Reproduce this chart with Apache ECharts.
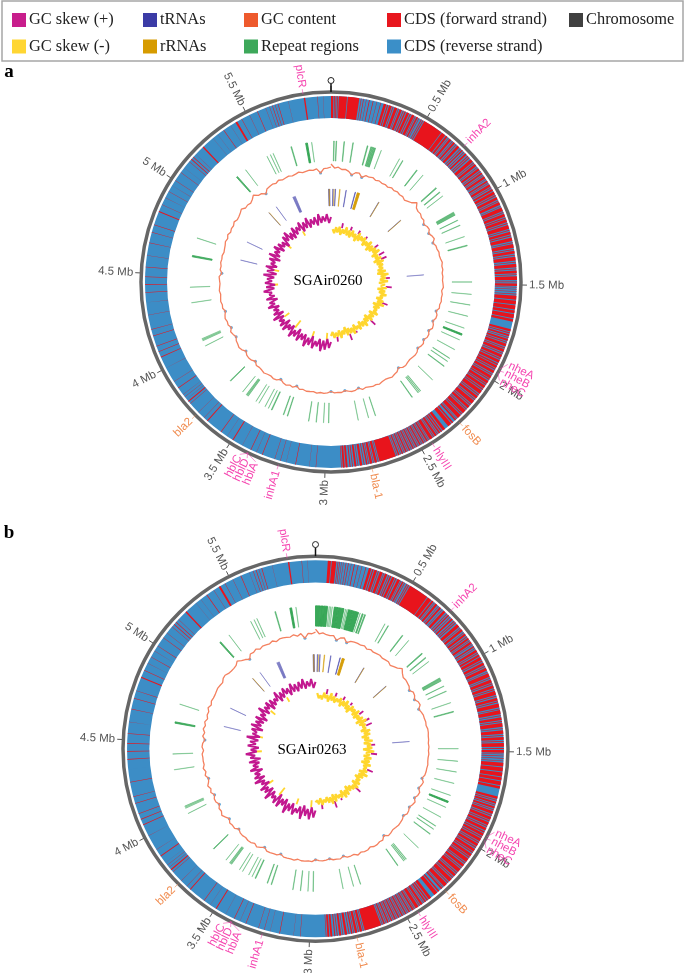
<!DOCTYPE html>
<html>
<head>
<meta charset="utf-8">
<style>html,body{margin:0;padding:0;background:#fff}#chart{width:685px;height:973px;filter:blur(0.45px)}</style>
<script src="https://cdn.jsdelivr.net/npm/echarts@6/dist/echarts.min.js"></script>
</head>
<body>
<div id="chart"></div>
<script>
const genomeMb = 5.94;
const binMb = 0.03;

const tickMb = [0.5, 1, 1.5, 2, 2.5, 3, 3.5, 4, 4.5, 5, 5.5];
const tickLabels = ['0.5 Mb', '1 Mb', '1.5 Mb', '2 Mb', '2.5 Mb', '3 Mb', '3.5 Mb', '4 Mb', '4.5 Mb', '5 Mb', '5.5 Mb'];

const geneNames = ['plcR', 'inhA2', 'nheA', 'nheB', 'nheC', 'fosB', 'hlyIII', 'bla-1', 'inhA1', 'hblC', 'hblD', 'hblA', 'bla2'];
const genePos = [5.80, 0.733, 1.935, 1.945, 1.955, 2.27, 2.44, 2.765, 3.235, 3.395, 3.40, 3.405, 3.72];
const geneLabelPos = [5.80, 0.733, 1.898, 1.94, 1.985, 2.27, 2.44, 2.765, 3.235, 3.43, 3.39, 3.345, 3.72];
const resistanceGenes = ['fosB', 'bla-1', 'bla2'];

// forward strand CDS on the outer ring, the gaps show the reverse strand below
const cdsReverseBase = [[0, 5.94]];
const cdsHeadA = [[0, 0.012], [0.016, 0.02], [0.024, 0.028], [0.032, 0.036], [0.04, 0.082], [0.086, 0.145]];
const cdsHeadB = [[0.062, 0.078], [0.082, 0.105], [0.112, 0.115], [0.12, 0.123], [0.13, 0.132], [0.14, 0.142]];
const cdsForward = [
  [0.153, 0.156], [0.165, 0.168], [0.18, 0.182], [0.195, 0.199], [0.215, 0.218], [0.235, 0.237], [0.255, 0.258],
  [0.272, 0.285], [0.29, 0.296], [0.301, 0.315], [0.32, 0.324], [0.33, 0.345], [0.35, 0.353], [0.358, 0.37], [0.376, 0.38], [0.385, 0.392],
  [0.397, 0.41], [0.415, 0.42], [0.426, 0.44], [0.444, 0.447], [0.452, 0.46], [0.465, 0.468], [0.478, 0.482], [0.487, 0.492],
  [0.497, 0.6], [0.604, 0.625],
  [0.63, 0.64], [0.645, 0.648], [0.653, 0.665], [0.672, 0.675], [0.68, 0.69], [0.697, 0.7], [0.706, 0.72], [0.728, 0.732], [0.738, 0.745],
  [0.752, 0.756], [0.763, 0.772], [0.78, 0.785], [0.79, 0.795],
  [0.803, 0.82], [0.826, 0.83], [0.835, 0.848], [0.855, 0.858], [0.863, 0.875], [0.881, 0.885], [0.89, 0.9], [0.905, 0.908], [0.913, 0.925],
  [0.93, 0.933], [0.94, 0.948], [0.953, 0.956], [0.962, 0.975], [0.98, 0.984], [0.99, 1.0],
  [1.005, 1.02], [1.025, 1.03], [1.036, 1.05], [1.056, 1.06], [1.065, 1.08], [1.087, 1.09], [1.095, 1.115], [1.12, 1.124], [1.13, 1.145],
  [1.15, 1.155], [1.16, 1.175], [1.18, 1.185], [1.19, 1.21], [1.216, 1.22], [1.226, 1.24], [1.245, 1.25], [1.256, 1.275], [1.282, 1.285],
  [1.29, 1.31], [1.316, 1.32], [1.326, 1.34], [1.346, 1.35], [1.356, 1.375], [1.382, 1.386], [1.392, 1.41], [1.416, 1.42], [1.426, 1.44],
  [1.446, 1.45], [1.456, 1.475], [1.482, 1.486], [1.492, 1.505],
  [1.51, 1.513], [1.52, 1.523], [1.532, 1.535], [1.545, 1.548],
  [1.555, 1.575], [1.58, 1.6], [1.605, 1.625], [1.63, 1.645], [1.65, 1.67], [1.675, 1.688],
  [1.728, 1.74], [1.745, 1.75], [1.755, 1.765], [1.77, 1.774], [1.78, 1.79], [1.795, 1.8], [1.805, 1.82], [1.825, 1.83], [1.835, 1.85],
  [1.855, 1.86], [1.865, 1.88], [1.885, 1.89], [1.895, 1.91],
  [1.915, 1.922], [1.926, 1.94], [1.944, 1.95], [1.955, 1.97], [1.975, 1.98], [1.985, 2.0], [2.004, 2.01], [2.015, 2.03], [2.034, 2.04],
  [2.045, 2.06], [2.064, 2.07], [2.075, 2.095], [2.1, 2.105], [2.11, 2.125], [2.13, 2.135], [2.14, 2.16], [2.165, 2.17], [2.175, 2.19],
  [2.195, 2.2], [2.205, 2.225], [2.23, 2.235], [2.24, 2.26], [2.265, 2.268], [2.272, 2.28], [2.292, 2.3], [2.305, 2.325],
  [2.345, 2.36], [2.365, 2.372], [2.377, 2.385], [2.39, 2.393], [2.398, 2.41], [2.414, 2.418], [2.423, 2.44], [2.445, 2.448], [2.452, 2.46],
  [2.465, 2.468], [2.473, 2.48], [2.485, 2.488], [2.493, 2.5], [2.505, 2.508], [2.513, 2.52], [2.525, 2.528], [2.533, 2.54], [2.545, 2.548],
  [2.553, 2.56], [2.565, 2.568], [2.573, 2.58], [2.585, 2.588], [2.593, 2.6], [2.605, 2.608], [2.613, 2.62], [2.625, 2.628],
  [2.633, 2.72], [2.725, 2.728], [2.733, 2.745], [2.75, 2.753], [2.758, 2.77], [2.775, 2.778], [2.783, 2.79], [2.798, 2.802], [2.81, 2.822],
  [2.83, 2.833], [2.84, 2.85], [2.858, 2.862], [2.87, 2.875], [2.885, 2.895], [2.9, 2.91], [2.915, 2.918],
  [3.046, 3.048], [3.08, 3.081], [3.15, 3.153], [3.2, 3.201], [3.23, 3.232], [3.26, 3.262], [3.327, 3.33], [3.36, 3.361], [3.39, 3.393], [3.44, 3.441],
  [3.493, 3.498], [3.53, 3.531], [3.567, 3.57], [3.655, 3.66], [3.68, 3.681], [3.72, 3.721], [3.78, 3.782], [3.793, 3.799], [3.81, 3.811], [3.825, 3.826], [3.84, 3.841],
  [3.88, 3.884], [3.92, 3.921], [4.0, 4.001], [4.06, 4.064], [4.09, 4.093], [4.12, 4.123], [4.175, 4.178], [4.21, 4.212], [4.285, 4.287], [4.35, 4.351],
  [4.40, 4.403], [4.44, 4.443], [4.48, 4.483], [4.53, 4.533], [4.59, 4.591], [4.655, 4.657], [4.71, 4.712], [4.75, 4.752], [4.82, 4.825], [4.86, 4.862],
  [4.90, 4.901], [4.935, 4.937], [4.97, 4.971], [5.0, 5.002], [5.05, 5.052], [5.08, 5.081], [5.12, 5.122], [5.135, 5.139], [5.15, 5.153], [5.17, 5.171],
  [5.22, 5.227], [5.29, 5.291], [5.32, 5.321], [5.357, 5.36], [5.40, 5.401], [5.43, 5.44], [5.465, 5.467], [5.51, 5.511], [5.553, 5.556], [5.6, 5.601],
  [5.62, 5.622], [5.635, 5.638], [5.65, 5.652], [5.665, 5.668], [5.72, 5.721], [5.801, 5.808], [5.87, 5.872], [5.9, 5.901]
];

// repeat regions, start and end in Mb
const repeatsHeadA = [
  [0.018, 0.022], [0.034, 0.038], [0.087, 0.091], [0.147, 0.151], [0.246, 0.251], [0.271, 0.276], [0.28, 0.285], [0.289, 0.294], [0.298, 0.304], [0.344, 0.346]
];
const repeatsHeadB = [
  [0.0, 0.03], [0.033, 0.05], [0.053, 0.08], [0.09, 0.092], [0.1, 0.102], [0.11, 0.112], [0.125, 0.15], [0.153, 0.19], [0.2, 0.202], [0.21, 0.212],
  [0.22, 0.25], [0.253, 0.29], [0.3, 0.302], [0.315, 0.322], [0.332, 0.338]
];
const repeats = [
  [0.479, 0.481], [0.503, 0.507], [0.617, 0.622], [0.671, 0.673], [0.793, 0.799], [0.83, 0.835], [0.864, 0.866],
  [0.995, 0.999], [1.002, 1.005], [1.008, 1.011], [1.014, 1.018], [1.055, 1.058], [1.092, 1.095], [1.174, 1.176], [1.235, 1.24],
  [1.484, 1.486], [1.567, 1.569], [1.639, 1.641], [1.716, 1.718], [1.799, 1.801], [1.841, 1.851], [1.884, 1.886], [1.957, 1.959],
  [2.024, 2.027], [2.049, 2.052], [2.088, 2.092], [2.209, 2.211], [2.318, 2.321], [2.328, 2.331], [2.338, 2.341], [2.388, 2.392],
  [2.665, 2.668], [2.714, 2.716], [2.785, 2.787], [2.984, 2.987], [3.019, 3.021], [3.068, 3.071], [3.119, 3.122],
  [3.265, 3.269], [3.293, 3.297], [3.378, 3.383], [3.404, 3.406], [3.429, 3.431], [3.476, 3.478], [3.499, 3.501],
  [3.563, 3.566], [3.570, 3.573], [3.577, 3.58], [3.609, 3.611], [3.718, 3.723], [4.009, 4.011], [4.048, 4.05], [4.055, 4.057], [4.062, 4.064],
  [4.314, 4.316], [4.419, 4.421], [4.625, 4.634], [4.754, 4.756], [5.246, 5.254], [5.324, 5.326], [5.494, 5.496], [5.519, 5.521], [5.539, 5.541],
  [5.667, 5.672], [5.769, 5.781], [5.809, 5.811]
];

const tRnas = [
  [5.915, 5.919], [5.925, 5.928], [0.018, 0.022], [0.043, 0.047], [0.153, 0.157], [0.248, 0.253], [0.508, 0.511], [0.798, 0.801],
  [1.412, 1.414], [4.679, 4.681], [4.874, 4.876], [5.248, 5.25], [5.344, 5.346], [5.54, 5.542], [5.548, 5.55], [5.556, 5.558], [5.564, 5.566]
];
const rRnas = [
  [5.92, 5.923], [0.03, 0.032], [0.088, 0.093], [0.272, 0.295], [0.512, 0.514], [0.802, 0.804], [5.251, 5.253]
];

// GC content radius every binMb, from the start of the chromosome
const gcA = [
  118, 114, 115, 113, 113.5, 112, 109, 112, 112.5, 109,
  112, 111.5, 112.5, 111, 112, 111, 111.5, 110.5, 112, 111,
  112, 111, 111.5, 110, 111.5, 113, 117, 113, 112, 112.5,
  111, 111.5, 109, 111, 111.5, 109, 111, 112, 109, 111,
  111, 112, 111.5, 112, 113, 112, 112.5, 111.5, 112, 111.5,
  112, 112.5, 111, 112, 111.5, 112, 111, 111.5, 109, 111,
  111, 109, 111, 111.5, 109, 111, 111, 109, 111, 110.5,
  109, 111, 111.5, 111, 110.5, 111, 112, 111.5, 109, 111.5,
  112, 113, 112, 111.5, 112, 113, 112, 112.5, 111.5, 111,
  112, 109.5, 111, 111.5, 110.5, 109.5, 111, 110.5, 111, 109.5,
  111, 111.5, 111, 112, 111, 111.5, 112, 111, 112, 109.5,
  112, 111, 112.5, 111.5, 109.5, 112, 112.5, 111.5, 112, 113,
  112, 111.5, 112, 109.5, 111.5, 112, 111.5, 109.5, 112, 113,
  112, 111.5, 109.5, 111, 112, 109.5, 111.5, 111, 112, 111,
  109.5, 111.5, 111, 112, 111.5, 111, 112, 111.5, 111, 111.5,
  112, 109.5, 111.5, 111, 112, 111.5, 112, 111, 111.5, 112,
  113, 112, 113.5, 112, 113, 112.5, 114, 112.5, 113, 114,
  115.5, 113, 113.5, 112.5, 114, 116.5, 113, 112.5, 109.5, 113,
  113.5, 114, 113, 114.5, 113, 113.5, 114, 113, 113.5, 114.5,
  113, 113.5, 114, 113, 114, 109.5, 113.5, 114, 115
];
const gcB = [
  118, 113.5, 114.5, 113, 112.5, 113, 109, 112, 113, 109,
  111.5, 112, 112, 111.5, 112.5, 110.5, 112, 111, 111.5, 112,
  111, 111.5, 112, 110.5, 112, 113.5, 116.5, 113.5, 111.5, 112,
  111.5, 111, 109, 111.5, 111, 109, 111.5, 112, 109, 110.5,
  111.5, 111.5, 112, 111.5, 112.5, 112.5, 112, 112, 111.5, 112,
  111.5, 112, 111.5, 111.5, 112, 111.5, 111.5, 111, 109, 111.5,
  110.5, 109, 111.5, 111, 109, 111.5, 110.5, 109, 110.5, 111,
  109, 110.5, 111, 111.5, 111, 110.5, 111.5, 112, 109, 112,
  111.5, 112.5, 112.5, 111, 112.5, 112.5, 111.5, 113, 111, 111.5,
  111.5, 109.5, 111.5, 111, 111, 109.5, 110.5, 111, 110.5, 109.5,
  111.5, 111, 111.5, 111.5, 110.5, 112, 111.5, 111.5, 111.5, 109.5,
  111.5, 111.5, 112, 112, 109.5, 111.5, 113, 111, 112.5, 112.5,
  111.5, 112, 111.5, 109.5, 112, 111.5, 112, 109.5, 111.5, 113.5,
  111.5, 112, 109.5, 111.5, 111.5, 109.5, 112, 110.5, 112.5, 110.5,
  109.5, 112, 110.5, 112.5, 111, 111.5, 111.5, 112, 110.5, 112,
  111.5, 109.5, 112, 110.5, 112.5, 111, 112.5, 110.5, 112, 111.5,
  113.5, 111.5, 113, 112.5, 112.5, 113, 113.5, 113, 112.5, 114.5,
  115, 113.5, 113, 113, 113.5, 116, 113.5, 112, 109.5, 113.5,
  113, 114.5, 112.5, 114, 113.5, 113, 114.5, 112.5, 114, 114,
  113.5, 113, 114.5, 112.5, 114.5, 109.5, 114, 113.5, 115
];

// GC skew trace radius every binMb, minus half from 0.03 Mb, plus half from 2.97 Mb
const skewMinusA = [
  53, 49, 55, 50, 56, 48, 54, 50, 57, 49, 55, 48, 56, 50, 54, 47, 57, 49, 55, 51,
  56, 48, 54, 50, 57, 47, 55, 49, 56, 51, 58, 48, 54, 50, 56, 47, 57, 49, 55, 50,
  54, 48, 56, 47, 58, 50, 55, 49, 57, 48, 54, 50, 56, 47, 55, 49, 57, 51, 54, 48,
  56, 50, 58, 47, 55, 49, 54, 51, 57, 48, 55, 50, 56, 47, 54, 49, 57, 50, 55, 48,
  56, 51, 54, 48, 57, 50, 55, 49, 56, 47, 54, 50, 57, 49, 55, 51, 56, 50, 54
];
const skewPlusA = [
  60, 66, 57, 68, 59, 70, 58, 66, 61, 69, 57, 67, 60, 70, 58, 65, 59, 68, 56, 66,
  60, 69, 57, 64, 59, 68, 56, 67, 60, 65, 58, 69, 56, 66, 59, 64, 57, 68, 60, 65,
  56, 67, 58, 63, 60, 68, 57, 65, 56, 66, 59, 64, 57, 68, 55, 65, 58, 67, 56, 63,
  59, 66, 55, 68, 57, 64, 59, 67, 56, 65, 58, 63, 55, 66, 59, 68, 57, 64, 56, 67,
  58, 65, 60, 68, 57, 66, 59, 69, 58, 66, 60, 67, 58, 69, 60, 66, 61, 68, 59, 65
];
const skewMinusB = [
  55, 50, 53, 49, 56, 51, 54, 48, 57, 50, 55, 49, 54, 51, 56, 48, 55, 50, 57, 49,
  54, 47, 56, 51, 55, 49, 57, 48, 54, 50, 56, 47, 58, 49, 55, 51, 54, 48, 57, 50,
  56, 47, 54, 49, 57, 48, 55, 51, 56, 47, 58, 50, 54, 48, 56, 49, 55, 47, 57, 50,
  54, 51, 56, 48, 58, 49, 55, 47, 54, 50, 56, 48, 57, 51, 55, 49, 54, 47, 56, 50,
  57, 48, 55, 51, 54, 49, 56, 48, 57, 50, 55, 49, 54, 51, 56, 49, 55, 51, 53
];
const skewPlusB = [
  61, 68, 58, 70, 60, 67, 57, 71, 59, 66, 62, 69, 58, 67, 60, 71, 57, 65, 59, 69,
  56, 68, 61, 65, 58, 70, 57, 66, 60, 68, 56, 64, 59, 69, 57, 67, 60, 65, 56, 68,
  59, 64, 57, 67, 55, 65, 60, 69, 58, 64, 56, 67, 59, 65, 57, 69, 56, 64, 60, 66,
  55, 68, 58, 65, 57, 67, 55, 64, 59, 69, 57, 65, 60, 67, 56, 66, 58, 64, 60, 69,
  57, 66, 59, 68, 61, 66, 58, 69, 60, 67, 59, 68, 61, 70, 60, 67, 62, 69, 60, 66
];
const skewPlusPos = [0.19, 0.345, 0.49, 0.64, 0.855, 1.0, 1.08, 1.42, 1.57, 1.85, 2.21, 2.52, 2.64, 2.86];
const skewPlusTip = [60, 59, 59, 58, 60, 61, 61, 59, 61, 61, 61.5, 57, 61.7, 60];
const skewMinusPos = [3.04, 3.28, 3.6, 3.85, 4.41, 4.65, 5.12, 5.46];
const skewMinusTip = [51, 52, 49, 52, 53, 53, 52, 53];

const colors = {
  skewPlus: '#c2188f', skewMinus: '#ffd62e', trna: '#3c3ca8', rrna: '#d39a00', gc: '#f4805f', gcLow: '#3f93cf',
  repeat: '#2fa350', forward: '#e8141c', reverse: '#3c8dc6', chromosome: '#666666'
};
const legendSwatch = {
  'GC skew (+)': '#c81e8c', 'GC skew (-)': '#ffd633', 'tRNAs': '#3b3ba6', 'rRNAs': '#d69b00', 'GC content': '#ee5a2d',
  'Repeat regions': '#3da85a', 'CDS (forward strand)': '#e8161e', 'CDS (reverse strand)': '#3b8fc8', 'Chromosome': '#404040'
};

const spanSeries = (name, polarIndex, spans, r0, r1, color, edge) => ({
  type: 'custom', name, coordinateSystem: 'polar', polarIndex, silent: true, data: spans,
  itemStyle: { color },
  renderItem: (params, api) => {
    let a = api.coord([r1, api.value(0)]);
    let b = api.coord([r0, api.value(1)]);
    // short features come out pale, long ones solid, as in the source plot
    let strength = Math.min(0.95, 0.24 + 70 * (api.value(1) - api.value(0)));
    return {
      type: 'sector',
      shape: { cx: params.coordSys.cx, cy: params.coordSys.cy, r: a[2], r0: b[2], startAngle: -a[3], endAngle: -b[3], clockwise: true },
      style: edge ? { fill: color, stroke: color, lineWidth: edge, opacity: strength } : { fill: color }
    };
  }
});

const traceSeries = (name, polarIndex, radii, startMb, color, width) => ({
  type: 'line', name, coordinateSystem: 'polar', polarIndex, silent: true, symbol: 'none', clip: false,
  lineStyle: { color, width }, itemStyle: { color },
  data: radii.map((r, i) => [r, startMb + i * binMb])
});

const spikeSeries = (name, polarIndex, pos, tips, baseR, color) => ({
  type: 'custom', name, coordinateSystem: 'polar', polarIndex, silent: true, itemStyle: { color },
  data: pos.map((p, i) => [tips[i], p]),
  renderItem: (params, api) => {
    let a = api.coord([baseR, api.value(1)]);
    let b = api.coord([api.value(0), api.value(1)]);
    return { type: 'line', shape: { x1: a[0], y1: a[1], x2: b[0], y2: b[1] }, style: { stroke: color, lineWidth: 1.8 } };
  }
});

// text runs along the radius, flipped on the left half so it stays readable
const radialText = (pt, angleRad, text, fill) => {
  let deg = (90 - angleRad * 180 / Math.PI + 360) % 360;
  let left = deg > 180;
  let rot = left ? 270 - deg : 90 - deg;
  return {
    type: 'text', x: pt[0], y: pt[1], rotation: rot * Math.PI / 180,
    style: { text, fill, font: '11.5px "Liberation Sans"', align: left ? 'right' : 'left', verticalAlign: 'middle' }
  };
};

const labelSeries = (polarIndex) => [
  {
    type: 'custom', name: 'tick labels', coordinateSystem: 'polar', polarIndex, silent: true,
    data: tickMb.map((m, i) => [198, m, i]),
    renderItem: (params, api) => {
      let pt = api.coord([api.value(0), api.value(1)]);
      return radialText(pt, pt[3], tickLabels[api.value(2)], '#555555');
    }
  },
  {
    type: 'custom', name: 'gene labels', coordinateSystem: 'polar', polarIndex, silent: true,
    data: geneNames.map((g, i) => [genePos[i], geneLabelPos[i], i]),
    renderItem: (params, api) => {
      let name = geneNames[api.value(2)];
      let color = resistanceGenes.includes(name) ? '#f08c50' : '#f545b0';
      let from = api.coord([190, api.value(0)]);
      let to = api.coord([195, api.value(1)]);
      let pt = api.coord([196.5, api.value(1)]);
      return {
        type: 'group',
        children: [
          { type: 'line', shape: { x1: from[0], y1: from[1], x2: to[0], y2: to[1] }, style: { stroke: color, lineWidth: 0.8, opacity: 0.7 } },
          radialText(pt, pt[3], name, color)
        ]
      };
    }
  },
  {
    type: 'custom', name: 'Chromosome', coordinateSystem: 'polar', polarIndex, silent: true, itemStyle: { color: '#404040' },
    data: [[0]],
    renderItem: (params, api) => {
      let from = api.coord([190, api.value(0)]);
      let to = api.coord([198.5, api.value(0)]);
      let head = api.coord([201.5, api.value(0)]);
      return {
        type: 'group',
        children: [
          { type: 'line', shape: { x1: from[0], y1: from[1], x2: to[0], y2: to[1] }, style: { stroke: '#111', lineWidth: 1.5 } },
          { type: 'circle', shape: { cx: head[0], cy: head[1], r: 3 }, style: { fill: '#fff', stroke: '#222', lineWidth: 1 } }
        ]
      };
    }
  }
];

const panelSeries = (polarIndex, cdsHead, repeatsHead, gc, skewMinus, skewPlus) => [
  spanSeries('CDS (reverse strand)', polarIndex, cdsReverseBase, 164, 186, colors.reverse),
  spanSeries('CDS (forward strand)', polarIndex, cdsHead.concat(cdsForward), 164, 186, colors.forward),
  spanSeries('Repeat regions', polarIndex, repeatsHead.concat(repeats), 121, 141, colors.repeat, 0.9),
  spanSeries('tRNAs', polarIndex, tRnas, 76, 93, colors.trna, 0.9),
  spanSeries('rRNAs', polarIndex, rRnas, 76, 93, colors.rrna, 0.9),
  traceSeries('GC content', polarIndex, gc, 0, colors.gc, 1.3),
  {
    type: 'scatter', name: 'GC below mean', coordinateSystem: 'polar', polarIndex, silent: true,
    symbolSize: 3, itemStyle: { color: colors.gcLow },
    data: gc.map((r, i) => [r, i * binMb]).filter((d) => d[0] < 110)
  },
  spikeSeries('GC skew (+)', polarIndex, skewPlusPos, skewPlusTip, 55, colors.skewPlus),
  spikeSeries('GC skew (-)', polarIndex, skewMinusPos, skewMinusTip, 58, colors.skewMinus),
  traceSeries('GC skew (-)', polarIndex, skewMinus, 0.03, colors.skewMinus, 2.2),
  traceSeries('GC skew (+)', polarIndex, skewPlus, 2.97, colors.skewPlus, 2)
].concat(labelSeries(polarIndex));

const angleAxisFor = (polarIndex) => ({
  polarIndex, type: 'value', min: 0, max: genomeMb, interval: 0.5, startAngle: 90, clockwise: true,
  axisLine: { show: true, lineStyle: { color: colors.chromosome, width: 3.5 } },
  axisTick: { show: true, length: 6, lineStyle: { color: '#555555', width: 1 } },
  axisLabel: { show: false }, splitLine: { show: false }, minorTick: { show: false }
});
const radiusAxisFor = (polarIndex) => ({
  polarIndex, type: 'value', min: 0, max: 190, axisLine: { show: false }, axisTick: { show: false }, axisLabel: { show: false }, splitLine: { show: false }
});

const legendFor = (left, names) => ({
  left, top: 12, padding: 0, orient: 'vertical', itemWidth: 14, itemHeight: 14, itemGap: 10.5, selectedMode: false,
  textStyle: { fontFamily: 'Liberation Serif', fontSize: 16.4, color: '#222', padding: [0, 0, 0, -2] },
  data: names.map((name) => ({ name, icon: 'rect', itemStyle: { color: legendSwatch[name] } }))
});

const headingFor = (text, left, top, fontSize, fontWeight) => ({
  text, left, top, textAlign: 'center', padding: 0,
  textStyle: { fontFamily: 'Liberation Serif', fontSize, fontWeight, color: '#000' }
});

let myChart = echarts.init(document.getElementById('chart'));
myChart.setOption({
  animation: false,
  backgroundColor: '#fff',
  title: [
    headingFor('a', 9, 63, 19, 'bold'),
    headingFor('b', 9, 524, 19, 'bold'),
    headingFor('SGAir0260', 328, 274, 15, 'normal'),
    headingFor('SGAir0263', 312, 743, 15, 'normal')
  ],
  legend: [
    legendFor(12, ['GC skew (+)', 'GC skew (-)']),
    legendFor(143, ['tRNAs', 'rRNAs']),
    legendFor(244, ['GC content', 'Repeat regions']),
    legendFor(387, ['CDS (forward strand)', 'CDS (reverse strand)']),
    legendFor(569, ['Chromosome'])
  ],
  graphic: [{
    type: 'rect', z: -1, shape: { x: 2, y: 1, width: 681, height: 60 }, style: { fill: 'none', stroke: '#a6a6a6', lineWidth: 1.5 }
  }],
  polar: [
    { center: [331, 282], radius: [0, 190] },
    { center: [315.5, 748.7], radius: [0, 192.5] }
  ],
  angleAxis: [angleAxisFor(0), angleAxisFor(1)],
  radiusAxis: [radiusAxisFor(0), radiusAxisFor(1)],
  series: panelSeries(0, cdsHeadA, repeatsHeadA, gcA, skewMinusA, skewPlusA)
    .concat(panelSeries(1, cdsHeadB, repeatsHeadB, gcB, skewMinusB, skewPlusB))
});
</script>
</body>
</html>
